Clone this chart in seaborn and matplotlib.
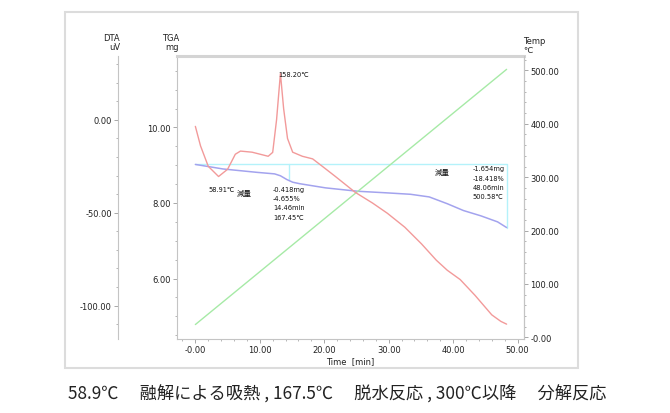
import matplotlib
matplotlib.use("Agg")
import matplotlib.pyplot as plt
from matplotlib.patches import Rectangle
from matplotlib.ticker import FixedLocator, FixedFormatter, MultipleLocator
import seaborn as sns
import pandas as pd

# ---------------- data ----------------
time_dta = [0, 0.8, 2.0, 3.6, 5.0, 6.2, 7.0, 8.8, 11.3, 12.0, 12.6, 13.2, 13.7, 14.3,
            15.1, 16.6, 18.2, 19.7, 21.7, 24.8, 27.5, 29.8, 32.5, 35.1,
            37.4, 39.1, 41.1, 43.4, 46.0, 47.4, 48.3]
dta_uv = [-3.5, -14.0, -25.0, -30.5, -26.6, -18.5, -16.8, -17.4, -19.6, -17.5, 0.0,
          25.0, 6.0, -10.0, -17.4, -19.6, -21.0, -25.0, -30.4, -39.0,
          -44.8, -50.3, -57.8, -66.8, -75.6, -81.0, -86.0, -94.5, -105.0, -108.5, -110.0]

time_tga = [0, 4.3, 9.6, 12.3, 13.2, 14.2, 15.1, 16.2, 20.2, 25.2, 29.5, 33.4, 36.3,
            39.1, 41.6, 44.3, 46.9, 48.3]
tga_mg = [9.02, 8.90, 8.81, 8.77, 8.72, 8.62, 8.55, 8.51, 8.40, 8.31, 8.27, 8.23, 8.16,
          7.98, 7.80, 7.66, 7.50, 7.35]

time_temp = [0, 48.3]
temp_c = [24, 502]

base_time = [0, 48.3, 48.3]
base_mg = [9.02, 9.02, 7.35]
step_time = [14.46, 14.46]
step_mg = [9.02, 8.60]

x_ticks = [0, 10, 20, 30, 40, 50]
x_ticklabels = ["-0.00", "10.00", "20.00", "30.00", "40.00", "50.00"]
tga_ticks = [6, 8, 10]
tga_ticklabels = ["6.00", "8.00", "10.00"]
dta_ticks = [-100, -50, 0]
dta_ticklabels = ["-100.00", "-50.00", "0.00"]
temp_ticks = [0, 100, 200, 300, 400, 500]
temp_ticklabels = ["-0.00", "100.00", "200.00", "300.00", "400.00", "500.00"]

peak_label = "158.20℃"
min_label = "58.91℃"
loss_word = "減量"
loss1_text = "-0.418mg\n-4.655%\n14.46min\n167.45℃"
loss2_text = "-1.654mg\n-18.418%\n48.06min\n500.58℃"
caption = "58.9℃　 融解による吸熱 , 167.5℃　 脱水反応 , 300℃以降　 分解反応"

# ---------------- style ----------------
sns.set_style("white")
plt.rcParams["font.family"] = ["DejaVu Sans", "Noto Sans CJK JP"]

W, H = 670, 414
fig = plt.figure(figsize=(W / 100, H / 100), dpi=100)
fig.patch.set_facecolor("white")

# outer frame
fig.patches.append(Rectangle((65 / W, 1 - 369 / H), (578 - 65) / W, (369 - 13) / H,
                             transform=fig.transFigure, fill=False,
                             edgecolor="#dcdcdc", linewidth=1.5))

left, right, top, bottom = 177, 524, 57, 340
ax = fig.add_axes([left / W, 1 - bottom / H, (right - left) / W, (bottom - top) / H])
ax_t = ax.twinx()
ax_d = ax.twinx()

XL = (-2.85, 51.0)
ax.set_xlim(*XL)
ax.set_ylim(4.4, 11.89)
ax_t.set_ylim(-3.1, 527)
ax_d.set_ylim(-118, 34.4)

df_dta = pd.DataFrame({"t": time_dta, "v": dta_uv})
df_tga = pd.DataFrame({"t": time_tga, "v": tga_mg})
df_tmp = pd.DataFrame({"t": time_temp, "v": temp_c})
df_base = pd.DataFrame({"t": base_time, "v": base_mg})
df_step = pd.DataFrame({"t": step_time, "v": step_mg})

kw = dict(sort=False, estimator=None)
sns.lineplot(data=df_base, x="t", y="v", ax=ax, color="#b4f2fa", lw=1.0, **kw)
sns.lineplot(data=df_step, x="t", y="v", ax=ax, color="#b4f2fa", lw=1.0, **kw)
sns.lineplot(data=df_tga, x="t", y="v", ax=ax, color="#a3a3ee", lw=1.1, **kw)
sns.lineplot(data=df_tmp, x="t", y="v", ax=ax_t, color="#a6eaa6", lw=1.0, **kw)
sns.lineplot(data=df_dta, x="t", y="v", ax=ax_d, color="#f29a9a", lw=1.0, **kw)

for a in (ax, ax_t, ax_d):
    a.set_xlabel("")
    a.set_ylabel("")
    a.set_xlim(*XL)

spine_c = "#c4c4c4"
tick_c = "#9a9a9a"
lab_c = "#222222"
fs = 6

# main axes (TGA + time)
for s in ("left", "bottom", "right"):
    ax.spines[s].set_color(spine_c)
    ax.spines[s].set_linewidth(0.8)
ax.spines["top"].set_color("#d4d4d4")
ax.spines["top"].set_linewidth(2.2)
ax.xaxis.set_major_locator(FixedLocator(x_ticks))
ax.xaxis.set_major_formatter(FixedFormatter(x_ticklabels))
ax.xaxis.set_minor_locator(MultipleLocator(2))
ax.yaxis.set_major_locator(FixedLocator(tga_ticks))
ax.yaxis.set_major_formatter(FixedFormatter(tga_ticklabels))
ax.yaxis.set_minor_locator(MultipleLocator(0.5))
ax.tick_params(axis="both", which="major", direction="out", length=3, width=0.6,
               color=tick_c, labelsize=fs, labelcolor=lab_c, pad=1.5)
ax.tick_params(axis="both", which="minor", direction="out", length=1.5, width=0.5,
               color=tick_c)
ax.tick_params(axis="x", bottom=True, which="both")
ax.tick_params(axis="y", left=True, which="both")
ax.set_xlabel("Time  [min]", fontsize=fs, color=lab_c, labelpad=1)

# Temp axis (right)
for s in ("left", "top", "bottom"):
    ax_t.spines[s].set_visible(False)
ax_t.spines["right"].set_color(spine_c)
ax_t.spines["right"].set_linewidth(0.8)
ax_t.yaxis.set_major_locator(FixedLocator(temp_ticks))
ax_t.yaxis.set_major_formatter(FixedFormatter(temp_ticklabels))
ax_t.yaxis.set_minor_locator(MultipleLocator(20))
ax_t.tick_params(axis="y", which="major", direction="out", length=3, width=0.6,
                 color=tick_c, labelsize=fs, labelcolor=lab_c, pad=1.5, right=True)
ax_t.tick_params(axis="y", which="minor", direction="out", length=1.5, width=0.5,
                 color=tick_c, right=True)

# DTA axis (far left)
for s in ("right", "top", "bottom"):
    ax_d.spines[s].set_visible(False)
ax_d.spines["left"].set_visible(True)
ax_d.spines["left"].set_position(("axes", (118 - left) / (right - left)))
ax_d.spines["left"].set_color(spine_c)
ax_d.spines["left"].set_linewidth(0.8)
ax_d.yaxis.tick_left()
ax_d.yaxis.set_major_locator(FixedLocator(dta_ticks))
ax_d.yaxis.set_major_formatter(FixedFormatter(dta_ticklabels))
ax_d.yaxis.set_minor_locator(MultipleLocator(10))
ax_d.tick_params(axis="y", which="major", direction="out", length=3, width=0.6,
                 color=tick_c, labelsize=fs, labelcolor=lab_c, pad=1.5, left=True)
ax_d.tick_params(axis="y", which="minor", direction="out", length=1.5, width=0.5,
                 color=tick_c, left=True)

# axis titles
fig.text(120 / W, 1 - 52 / H, "DTA\nuV", ha="right", va="bottom", fontsize=fs,
         color=lab_c, linespacing=1.0)
fig.text(179 / W, 1 - 52 / H, "TGA\nmg", ha="right", va="bottom", fontsize=fs,
         color=lab_c, linespacing=1.0)
fig.text(523 / W, 1 - 55 / H, "Temp\n℃", ha="left", va="bottom", fontsize=fs,
         color=lab_c, linespacing=1.0)

# annotations
afs = 4.8
ax_d.text(12.9, 24.8, peak_label, ha="left", va="center", fontsize=afs, color="#111111")
ax_d.text(2.0, -37.3, min_label, ha="left", va="center", fontsize=afs, color="#111111")
ax_d.text(6.4, -39.0, loss_word, ha="left", va="center", fontsize=afs + 0.6, color="#111111")
ax_d.text(12.05, -35.5, loss1_text, ha="left", va="top", fontsize=afs, color="#111111",
          linespacing=1.65)
ax_d.text(37.2, -27.7, loss_word, ha="left", va="center", fontsize=afs + 0.6, color="#111111")
ax_d.text(43.0, -24.5, loss2_text, ha="left", va="top", fontsize=afs, color="#111111",
          linespacing=1.65)

# caption
fig.text(337 / W, 1 - 394 / H, caption, ha="center", va="center", fontsize=12.4,
         color="#222222", family=["Noto Sans CJK JP", "DejaVu Sans"])

fig.savefig("out.png", dpi=100, facecolor="white")
